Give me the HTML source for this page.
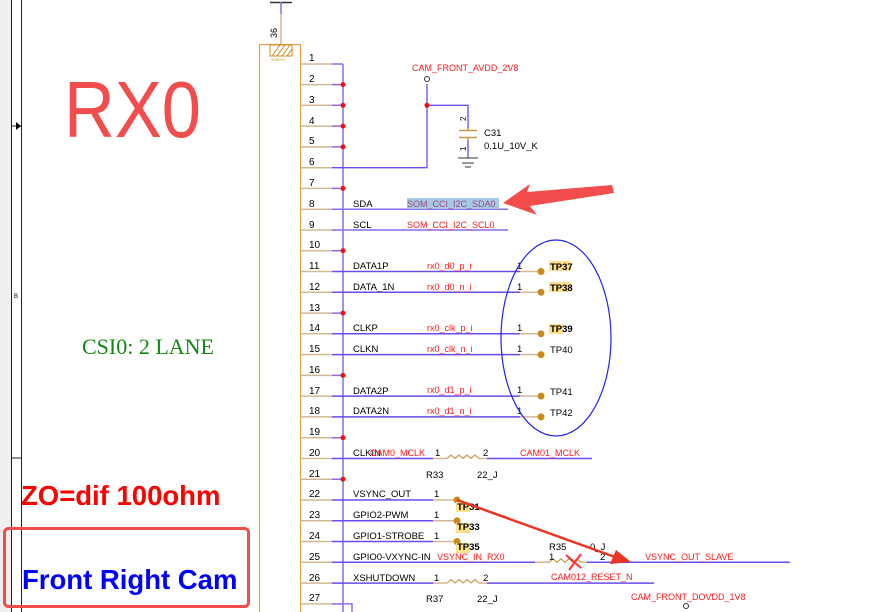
<!DOCTYPE html>
<html><head><meta charset="utf-8"><style>
html,body{margin:0;padding:0;background:#fff;width:891px;height:612px;overflow:hidden}
svg{display:block}
text{font-family:"Liberation Sans",sans-serif}
.n{font-size:10px;fill:#000}
.r{font-size:9px;fill:#ff1a1a}
.t{font-size:9.5px;fill:#000}
</style></head><body>
<svg width="891" height="612" viewBox="0 0 891 612" xmlns="http://www.w3.org/2000/svg">
<rect x="0" y="0" width="11" height="612" fill="#efefef"/>
<line x1="11.5" y1="0" x2="11.5" y2="612" stroke="#222" stroke-width="1"/>
<line x1="21.5" y1="0" x2="21.5" y2="612" stroke="#222" stroke-width="1"/>
<line x1="11" y1="126" x2="21" y2="126" stroke="#222"/>
<polygon points="16,122 21,126 16,130" fill="#000"/>
<line x1="11" y1="458" x2="21" y2="458" stroke="#222"/>
<text x="14" y="298" font-size="6" fill="#000">B</text>

<text x="0" y="0" font-size="80" fill="#f24c4c" transform="translate(64,137) scale(0.88,1)">RX0</text>
<text x="82" y="354" font-size="22" fill="#118811" style="font-family:'Liberation Serif',serif">CSI0: 2 LANE</text>
<text x="21" y="505" font-size="27.5" font-weight="bold" fill="#ff0000">ZO=dif 100ohm</text>
<rect x="4.5" y="528.5" width="244" height="78" rx="4" fill="none" stroke="#f24c4c" stroke-width="3"/>
<text x="22" y="589" font-size="27.5" font-weight="bold" fill="#0000ff">Front Right Cam</text>

<!-- connector -->
<line x1="270" y1="2.5" x2="292" y2="2.5" stroke="#333" stroke-width="1.5"/>
<line x1="281" y1="2" x2="281" y2="14" stroke="#8a6cf0" stroke-width="1.5"/>
<line x1="281" y1="14" x2="281" y2="44" stroke="#d4b896" stroke-width="1.5"/>
<text x="0" y="0" font-size="9" transform="translate(277,38) rotate(-90)" fill="#000">36</text>
<rect x="259.5" y="44.5" width="41" height="580" fill="none" stroke="#e0a040" stroke-width="1.2"/>
<rect x="270" y="45" width="22" height="11" fill="none" stroke="#d08a20" stroke-width="1"/>
<path d="M272,56 l8,-11 M277,56 l8,-11 M282,56 l8,-11 M287,56 l5,-7" stroke="#d08a20" stroke-width="1"/>
<text x="271" y="61" font-size="3.5" fill="#d08a20">SNDFIX1</text>

<!-- bus -->
<line x1="343" y1="64" x2="343" y2="612" stroke="#8a6cf0" stroke-width="1.5"/>

<g id="pins">
<g stroke-width="1.5">
<path d="M301,64 h31 M301,84.6 h31 M301,105.3 h31 M301,126.1 h31 M301,146.9 h31 M301,167.7 h31 M301,188.4 h31 M301,209.2 h31 M301,230 h31 M301,250.7 h31 M301,271.5 h31 M301,292.3 h31 M301,313.1 h31 M301,333.8 h31 M301,354.6 h31 M301,375.4 h31 M301,396.1 h31 M301,416.9 h31 M301,437.7 h31 M301,458.5 h31 M301,479.2 h31 M301,500 h31 M301,520.8 h31 M301,541.5 h31 M301,562.3 h31 M301,583.1 h31 M301,603.9 h31" stroke="#d4b896"/>
<path d="M332,64 h11 M332,84.6 h11 M332,105.3 h11 M332,126.1 h11 M332,146.9 h11 M332,188.4 h11 M332,250.7 h11 M332,313.1 h11 M332,375.4 h11 M332,437.7 h11 M332,479.2 h11 M332,603.9 h20 v8" stroke="#8a6cf0" fill="none"/>
<path d="M332,167.7 H427 V84 M427,105.3 H468 V128 M468,140 V158" stroke="#6a4cf0" fill="none" stroke-width="1.3"/>
<path d="M332,209.2 H508 M332,230 H508" stroke="#8a6cf0"/>
<path d="M332,271.5 H520 M332,292.3 H520 M332,333.8 H520 M332,354.6 H520 M332,396.1 H520 M332,416.9 H520" stroke="#6a4cf0"/>
<path d="M520,271.5 H540 M520,292.3 H540 M520,333.8 H540 M520,354.6 H540 M520,396.1 H540 M520,416.9 H540" stroke="#d4b896"/>
<path d="M332,458.5 H433 M487,458.5 H592 M332,500 H433 M332,520.8 H433 M332,541.5 H433 M332,562.3 H535 M587,562.3 H790 M332,583.1 H433 M487,583.1 H654" stroke="#6a4cf0"/>
<path d="M433,458.5 H447 M479,458.5 H487 M433,583.1 H447 M479,583.1 H487 M433,500 H456 M433,520.8 H456 M433,541.5 H456 M535,562.3 H549 M581,562.3 H587" stroke="#d4b896"/>
</g>
<path d="M447,458.5 l4,-3.5 l4,3.5 l4,-3.5 l4,3.5 l4,-3.5 l4,3.5 l4,-3.5 l4,3.5 M447,583.1 l4,-3.5 l4,3.5 l4,-3.5 l4,3.5 l4,-3.5 l4,3.5 l4,-3.5 l4,3.5 M549,562.3 l4,-3.5 l4,3.5 l4,-3.5 l4,3.5 l4,-3.5 l4,3.5 l4,-3.5 l4,3.5" stroke="#c89a50" stroke-width="1.2" fill="none"/>
<g fill="#ee1111">
<circle cx="343" cy="84.6" r="2.5"/><circle cx="343" cy="105.3" r="2.5"/><circle cx="343" cy="126.1" r="2.5"/><circle cx="343" cy="146.9" r="2.5"/><circle cx="343" cy="188.4" r="2.5"/><circle cx="343" cy="250.7" r="2.5"/><circle cx="343" cy="313.1" r="2.5"/><circle cx="343" cy="375.4" r="2.5"/><circle cx="343" cy="437.7" r="2.5"/><circle cx="343" cy="479.2" r="2.5"/><circle cx="427" cy="105.3" r="2.5"/>
</g>
<g fill="#cc8a1a">
<circle cx="541" cy="271.5" r="3.5"/><circle cx="541" cy="292.3" r="3.5"/><circle cx="541" cy="333.8" r="3.5"/><circle cx="541" cy="354.6" r="3.5"/><circle cx="541" cy="396.1" r="3.5"/><circle cx="541" cy="416.9" r="3.5"/><circle cx="457" cy="500" r="3.5"/><circle cx="457" cy="520.8" r="3.5"/><circle cx="457" cy="541.5" r="3.5"/>
</g>
</g>
<circle cx="427" cy="79" r="2.5" fill="#fff" stroke="#333" stroke-width="1"/>
<text x="412" y="71" class="r">CAM_FRONT_AVDD_2V8</text>
<path d="M459,130.5 h18 M459,137.5 h18" stroke="#c89a50" stroke-width="1.5"/>
<path d="M468,128 v2 M468,138 v2" stroke="#c89a50" stroke-width="1.5"/>
<path d="M458,158 h20 M462,163 h12 M465,167 h6" stroke="#333" stroke-width="1"/>
<text x="0" y="0" font-size="8" transform="translate(466,121) rotate(-90)">2</text>
<text x="0" y="0" font-size="8" transform="translate(466,151) rotate(-90)">1</text>
<text x="484" y="136" class="t">C31</text>
<text x="484" y="149" class="t">0.1U_10V_K</text>

<g>
<text x="309" y="61" class="n">1</text><text x="309" y="82" class="n">2</text><text x="309" y="103" class="n">3</text><text x="309" y="124" class="n">4</text><text x="309" y="144" class="n">5</text><text x="309" y="165" class="n">6</text><text x="309" y="186" class="n">7</text><text x="309" y="207" class="n">8</text><text x="309" y="228" class="n">9</text><text x="309" y="248" class="n">10</text><text x="309" y="269" class="n">11</text><text x="309" y="290" class="n">12</text><text x="309" y="311" class="n">13</text><text x="309" y="331" class="n">14</text><text x="309" y="352" class="n">15</text><text x="309" y="373" class="n">16</text><text x="309" y="394" class="n">17</text><text x="309" y="414" class="n">18</text><text x="309" y="435" class="n">19</text><text x="309" y="456" class="n">20</text><text x="309" y="477" class="n">21</text><text x="309" y="497" class="n">22</text><text x="309" y="518" class="n">23</text><text x="309" y="539" class="n">24</text><text x="309" y="560" class="n">25</text><text x="309" y="581" class="n">26</text><text x="309" y="601" class="n">27</text>
</g>
<g>
<text x="353" y="207" class="t">SDA</text><text x="353" y="228" class="t">SCL</text>
<text x="353" y="269" class="t">DATA1P</text><text x="353" y="290" class="t">DATA_1N</text>
<text x="353" y="331" class="t">CLKP</text><text x="353" y="352" class="t">CLKN</text>
<text x="353" y="394" class="t">DATA2P</text><text x="353" y="414" class="t">DATA2N</text>
<text x="353" y="456" class="t">CLKIN</text>
<text x="353" y="497" class="t">VSYNC_OUT</text><text x="353" y="518" class="t">GPIO2-PWM</text>
<text x="353" y="539" class="t">GPIO1-STROBE</text><text x="353" y="560" class="t">GPIO0-VXYNC-IN</text>
<text x="353" y="581" class="t">XSHUTDOWN</text>
</g>
<rect x="407" y="198" width="92" height="11" fill="#a8c8e8"/>
<text x="407" y="207" font-size="9" fill="#9a4a7a">SOM_CCI_I2C_SDA0</text>
<text x="407" y="228" class="r">SOM_CCI_I2C_SCL0</text>
<text x="427" y="269" class="r">rx0_d0_p_i</text><text x="427" y="290" class="r">rx0_d0_n_i</text>
<text x="427" y="331" class="r">rx0_clk_p_i</text><text x="427" y="352" class="r">rx0_clk_n_i</text>
<text x="427" y="393" class="r">rx0_d1_p_i</text><text x="427" y="414" class="r">rx0_d1_n_i</text>
<text x="517" y="269" class="t">1</text><text x="517" y="290" class="t">1</text><text x="517" y="331" class="t">1</text><text x="517" y="352" class="t">1</text><text x="517" y="393" class="t">1</text><text x="517" y="414" class="t">1</text>
<rect x="549" y="261" width="22" height="10" fill="#ffe08a"/><rect x="549" y="282" width="22" height="10" fill="#ffe08a"/><rect x="549" y="324" width="14" height="10" fill="#ffe08a"/>
<text x="550" y="270" class="t" font-weight="bold">TP37</text><text x="550" y="291" class="t" font-weight="bold">TP38</text>
<text x="550" y="332" class="t" font-weight="bold">TP39</text><text x="550" y="353" class="t">TP40</text>
<text x="550" y="395" class="t">TP41</text><text x="550" y="416" class="t">TP42</text>
<ellipse cx="556" cy="338" rx="55" ry="98" fill="none" stroke="#2222ee" stroke-width="1.2"/>

<text x="370" y="456" class="r">CAM0_MCLK</text>
<text x="435" y="456" class="t">1</text><text x="483" y="456" class="t">2</text>
<text x="520" y="456" class="r">CAM01_MCLK</text>
<text x="426" y="478" class="t">R33</text><text x="477" y="478" class="t">22_J</text>

<text x="434" y="497" class="t">1</text><text x="434" y="518" class="t">1</text><text x="434" y="539" class="t">1</text>
<rect x="456" y="502" width="14" height="10" fill="#ffe08a"/><rect x="456" y="523" width="14" height="10" fill="#ffe08a"/><rect x="456" y="543" width="14" height="10" fill="#ffe08a"/>
<text x="457" y="510" class="t" font-weight="bold">TP31</text>
<text x="457" y="530" class="t" font-weight="bold">TP33</text>
<text x="457" y="550" class="t" font-weight="bold">TP35</text>

<text x="437" y="560" class="r">VSYNC_IN_RX0</text>
<text x="549" y="550" class="t">R35</text><text x="590" y="550" class="t">0_J</text>
<text x="549" y="560" class="t">1</text><text x="600" y="560" class="t">2</text>
<text x="645" y="560" class="r">VSYNC_OUT_SLAVE</text>
<path d="M566,555 l15,13 M581,554 l-12,16" stroke="#ff3333" stroke-width="2"/>
<text x="551" y="580" class="r">CAM012_RESET_N</text>
<text x="434" y="581" class="t">1</text><text x="483" y="581" class="t">2</text>
<text x="426" y="602" class="t">R37</text><text x="477" y="602" class="t">22_J</text>
<text x="631" y="600" class="r">CAM_FRONT_DOVDD_1V8</text>
<circle cx="686" cy="606" r="2.5" fill="#fff" stroke="#333"/>

<line x1="457" y1="500" x2="615" y2="557" stroke="#ee3322" stroke-width="2.5"/>
<polygon points="631,562 610,564 616,550" fill="#ee3322"/>
<polygon points="503,203 530,184 527,192 612,185 614,193 530,206 537,215" fill="#f24c4c"/>
</svg>
</body></html>
